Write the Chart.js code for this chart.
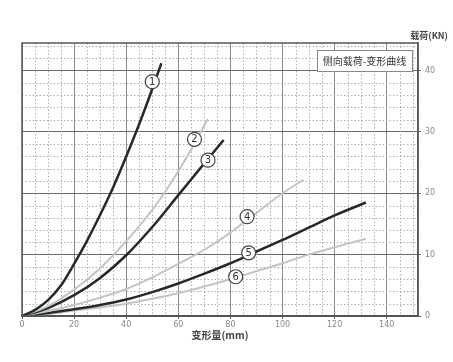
<!DOCTYPE html>
<html>
<head>
<meta charset="utf-8">
<script src="https://cdn.jsdelivr.net/npm/chart.js@4/dist/chart.umd.min.js"></script>
<style>
  html, body { margin: 0; padding: 0; background: #fff; }
  #wrap { width: 453px; height: 362px; }
</style>
</head>
<body>
<div id="wrap"><canvas id="loadChart" width="453" height="362"></canvas></div>
<script>
// deformation (mm) / load (KN)
const curve1X = [0, 5, 10, 15, 20, 25, 30, 35, 40, 45, 50, 53.5];
const curve1Y = [0, 1, 2.6, 5, 8.5, 12.3, 16.5, 21, 26, 31.3, 37, 41.2];
const curve2X = [0, 10, 20, 30, 40, 50, 55, 60, 65, 71.3];
const curve2Y = [0, 1.6, 4.3, 7.8, 12.2, 17.3, 20.3, 23.6, 27.2, 32.1];
const curve3X = [0, 5, 10, 20, 30, 40, 50, 60, 65, 70, 77.4];
const curve3Y = [0, 0.6, 1.3, 3.4, 6.2, 9.9, 14.5, 19.7, 22.3, 24.9, 28.7];
const curve4X = [0, 10, 20, 30, 40, 50, 60, 70, 80, 90, 100, 108];
const curve4Y = [0, 0.8, 1.8, 3, 4.4, 6.3, 8.5, 10.8, 13.6, 16.8, 20, 22.2];
const curve5X = [0, 5, 10, 20, 30, 40, 50, 60, 70, 80, 90, 100, 110, 120, 132];
const curve5Y = [0, 0.2, 0.5, 1.1, 1.8, 2.7, 3.9, 5.3, 6.9, 8.6, 10.5, 12.4, 14.4, 16.4, 18.5];
const curve6X = [0, 10, 20, 30, 40, 50, 60, 70, 80, 90, 100, 110, 120, 132];
const curve6Y = [0, 0.3, 0.9, 1.4, 2, 2.8, 3.7, 4.8, 6, 7.3, 8.6, 10, 11.2, 12.6];

const curveNames = ['1', '2', '3', '4', '5', '6'];
const labelX = [50, 66.2, 71.4, 86.4, 87, 82];
const labelY = [38.2, 28.8, 25.4, 16.2, 10.3, 6.4];

const xTicks = [0, 20, 40, 60, 80, 100, 120, 140];
const yTicks = [0, 10, 20, 30, 40];

const DARK = '#232b2a';
const LIGHT = '#c4c4c4';

function pts(xs, ys) {
    return xs.map((x, i) => ({ x: x, y: ys[i] }));
}

function curve(name, xs, ys, color, width) {
    return {
        label: name,
        data: pts(xs, ys),
        showLine: true,
        borderColor: color,
        backgroundColor: color,
        borderWidth: width,
        pointRadius: 0,
        cubicInterpolationMode: 'monotone'
    };
}

// minor dotted grid, frame, circled curve numbers, boxed caption
const decor = {
    id: 'decor',
    beforeDatasetsDraw(chart) {
        const { ctx, chartArea: a, scales: { x, y } } = chart;
        ctx.save();
        ctx.strokeStyle = '#b0b0b0';
        ctx.lineWidth = 1;
        ctx.setLineDash([1.5, 2]);
        for (let v = 5; v < x.max; v += 5) {
            if (v % 20 === 0) continue;
            const px = Math.round(x.getPixelForValue(v)) + 0.5;
            ctx.beginPath(); ctx.moveTo(px, a.top); ctx.lineTo(px, a.bottom); ctx.stroke();
        }
        for (let v = 2; v < y.max; v += 2) {
            if (v % 10 === 0) continue;
            const py = Math.round(y.getPixelForValue(v)) + 0.5;
            ctx.beginPath(); ctx.moveTo(a.left, py); ctx.lineTo(a.right, py); ctx.stroke();
        }
        ctx.restore();
    },
    afterDatasetsDraw(chart) {
        const { ctx, chartArea: a, scales: { x, y } } = chart;
        ctx.save();
        // frame
        ctx.strokeStyle = '#555';
        ctx.lineWidth = 1.5;
        ctx.strokeRect(a.left, a.top, a.right - a.left, a.bottom - a.top);

        // circled numbers
        ctx.font = '10px "DejaVu Sans", sans-serif';
        ctx.textAlign = 'center';
        ctx.textBaseline = 'middle';
        curveNames.forEach((n, i) => {
            const px = x.getPixelForValue(labelX[i]);
            const py = y.getPixelForValue(labelY[i]);
            ctx.beginPath();
            ctx.arc(px, py, 7, 0, Math.PI * 2);
            ctx.fillStyle = '#fff';
            ctx.fill();
            ctx.lineWidth = 1.2;
            ctx.strokeStyle = '#444';
            ctx.stroke();
            ctx.fillStyle = '#333';
            ctx.fillText(n, px, py + 0.5);
        });

        // caption box
        const bx = a.right - 101, by = a.top + 7, bw = 95, bh = 21;
        ctx.fillStyle = '#fff';
        ctx.fillRect(bx, by, bw, bh);
        ctx.strokeStyle = '#888';
        ctx.lineWidth = 1;
        ctx.strokeRect(bx + 0.5, by + 0.5, bw, bh);
        ctx.fillStyle = '#333';
        ctx.font = '10px "Noto Sans CJK SC", sans-serif';
        ctx.fillText('侧向载荷-变形曲线', bx + bw / 2, by + bh / 2 + 1);

        // y axis title
        ctx.font = 'bold 9px "Noto Sans CJK SC", sans-serif';
        ctx.textAlign = 'right';
        ctx.fillStyle = '#444';
        ctx.fillText('载荷(KN)', 448, a.top - 7);
        ctx.restore();
    }
};

document.addEventListener('DOMContentLoaded', function () {
    const ctx = document.getElementById('loadChart').getContext('2d');
    const loadChart = new Chart(ctx, {
        type: 'scatter',
        data: {
            datasets: [
                curve('1', curve1X, curve1Y, DARK, 2.5),
                curve('2', curve2X, curve2Y, LIGHT, 2),
                curve('3', curve3X, curve3Y, DARK, 2.5),
                curve('4', curve4X, curve4Y, LIGHT, 2),
                curve('5', curve5X, curve5Y, DARK, 2.5),
                curve('6', curve6X, curve6Y, LIGHT, 2)
            ]
        },
        options: {
            responsive: false,
            animation: false,
            layout: { padding: { left: 22, top: 43, right: 0, bottom: 0 } },
            plugins: {
                legend: { display: false },
                tooltip: { enabled: false }
            },
            scales: {
                x: {
                    type: 'linear',
                    min: 0,
                    max: 152,
                    afterFit(s) { s.height = 46; },
                    afterBuildTicks(s) { s.ticks = xTicks.map(v => ({ value: v })); },
                    ticks: {
                        includeBounds: false,
                        color: '#888',
                        font: { size: 8, family: 'DejaVu Sans' },
                        padding: 1,
                        maxRotation: 0
                    },
                    grid: { color: '#8a8a8a', lineWidth: 1, tickLength: 3, tickColor: '#666' },
                    border: { color: '#555', width: 1.5 },
                    title: {
                        display: true,
                        text: '变形量(mm)',
                        color: '#444',
                        font: { size: 10, family: 'Noto Sans CJK SC', weight: 'bold' },
                        padding: { top: 4, bottom: 21 }
                    }
                },
                y: {
                    type: 'linear',
                    position: 'right',
                    min: 0,
                    max: 44.5,
                    afterFit(s) { s.width = 35; },
                    afterBuildTicks(s) { s.ticks = yTicks.map(v => ({ value: v })); },
                    ticks: {
                        includeBounds: false,
                        color: '#888',
                        font: { size: 8, family: 'DejaVu Sans' },
                        padding: 4
                    },
                    grid: { color: '#6a6a6a', lineWidth: 1, tickLength: 3, tickColor: '#666' },
                    border: { color: '#555', width: 1.5 }
                }
            }
        },
        plugins: [decor]
    });
});
</script>
</body>
</html>
